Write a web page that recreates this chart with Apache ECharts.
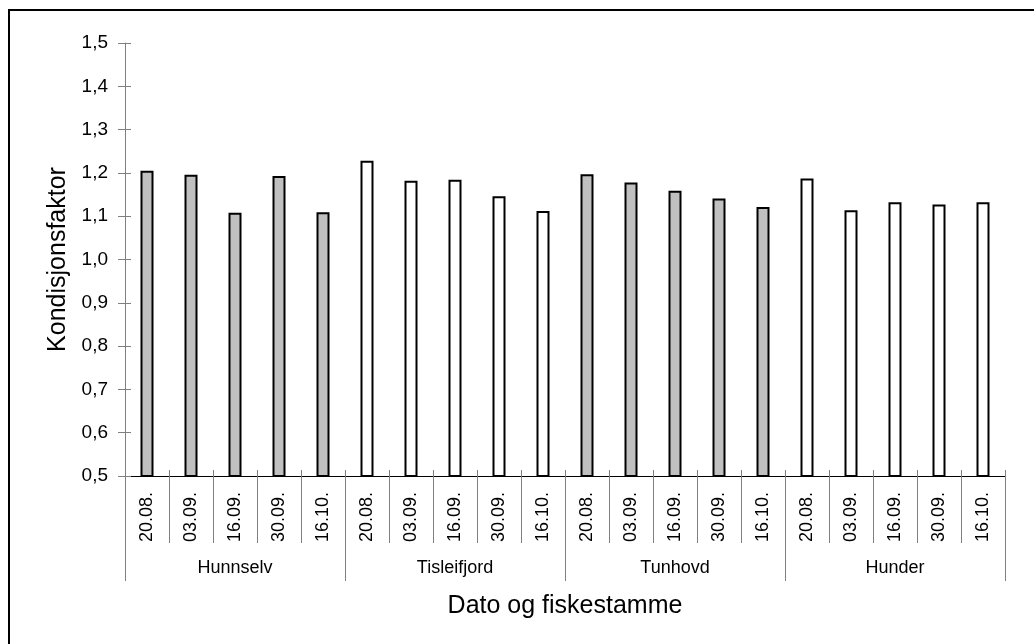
<!DOCTYPE html>
<html>
<head>
<meta charset="utf-8">
<title>Kondisjonsfaktor</title>
<script src="https://cdn.jsdelivr.net/npm/echarts@6/dist/echarts.min.js"></script>
<style>
  html, body { margin: 0; padding: 0; background: #fff; }
  #chart { width: 1034px; height: 644px; }
</style>
</head>
<body>
<div id="chart"></div>
<script>
// Sampling dates within each fish stock
const dates = ['20.08.', '03.09.', '16.09.', '30.09.', '16.10.'];
// Fish stocks (groups along the x axis)
const stocks = ['Hunnselv', 'Tisleifjord', 'Tunhovd', 'Hunder'];
// Bar fill per stock
const stockFill = ['#c0c0c0', '#ffffff', '#c0c0c0', '#ffffff'];
// Condition factor per stock, one value per date
const hunnselv = [1.205, 1.196, 1.108, 1.193, 1.109];
const tisleifjord = [1.228, 1.182, 1.184, 1.146, 1.112];
const tunhovd = [1.197, 1.178, 1.159, 1.141, 1.121];
const hunder = [1.187, 1.114, 1.132, 1.127, 1.132];
// Y axis ticks
const yMin = 0.5, yMax = 1.5, yStep = 0.1;

const stockValues = [hunnselv, tisleifjord, tunhovd, hunder];
const categories = [];
const barData = [];
stockValues.forEach((vals, g) => {
  vals.forEach((v, i) => {
    categories.push(dates[i]);
    barData.push({ value: v, itemStyle: { color: stockFill[g] } });
  });
});

const font = '"Liberation Sans", Arial, sans-serif';
const grey = '#808080';
const fmt = v => v.toFixed(1).replace('.', ',');

const chart = echarts.init(document.getElementById('chart'), null, { renderer: 'canvas' });
chart.setOption({
  backgroundColor: '#ffffff',
  animation: false,
  textStyle: { fontFamily: font, color: '#000' },
  grid: { left: 125, right: 29, top: 43, bottom: 168, containLabel: false },
  graphic: [{
    type: 'polyline',
    shape: { points: [[9, 700], [9, 10], [1100, 10]] },
    style: { stroke: '#000', lineWidth: 2, fill: null },
    silent: true
  }],
  xAxis: [
    {
      type: 'category',
      data: categories,
      position: 'bottom',
      boundaryGap: true,
      axisLine: { show: true, lineStyle: { color: '#000', width: 1 } },
      axisTick: { show: true, interval: 0, length: 67, lineStyle: { color: grey } },
      axisLabel: { interval: 0, rotate: 90, margin: 16, fontSize: 18, color: '#000', fontFamily: font },
      splitLine: { show: false }
    },
    {
      type: 'category',
      data: categories,
      position: 'bottom',
      boundaryGap: true,
      axisLine: { show: false },
      axisTick: { show: true, inside: true, interval: 0, length: 6, lineStyle: { color: grey } },
      axisLabel: { show: false },
      splitLine: { show: false }
    },
    {
      type: 'category',
      data: stocks,
      position: 'bottom',
      boundaryGap: true,
      axisLine: { show: false },
      axisTick: { show: true, interval: 0, length: 105, lineStyle: { color: grey } },
      axisLabel: { interval: 0, margin: 83, fontSize: 18, color: '#000', fontFamily: font },
      splitLine: { show: false },
      name: 'Dato og fiskestamme',
      nameLocation: 'middle',
      nameGap: 118,
      nameTextStyle: { fontSize: 25, color: '#000', fontFamily: font }
    }
  ],
  yAxis: [
    {
      type: 'value',
      position: 'left',
      min: yMin, max: yMax, interval: yStep,
      axisLine: { show: true, lineStyle: { color: grey, width: 1 } },
      axisTick: { show: true, length: 7, lineStyle: { color: grey } },
      axisLabel: { formatter: fmt, fontSize: 19, margin: 17, color: '#000', fontFamily: font },
      splitLine: { show: false },
      name: 'Kondisjonsfaktor',
      nameLocation: 'middle',
      nameGap: 53,
      nameTextStyle: { fontSize: 25, color: '#000', fontFamily: font }
    },
    {
      type: 'value',
      position: 'left',
      min: yMin, max: yMax, interval: yStep,
      axisLine: { show: false },
      axisTick: { show: true, inside: true, length: 6, lineStyle: { color: grey } },
      axisLabel: { show: false },
      splitLine: { show: false }
    }
  ],
  series: [{
    type: 'bar',
    xAxisIndex: 0,
    yAxisIndex: 0,
    data: barData,
    barWidth: 13,
    itemStyle: { borderColor: '#000', borderWidth: 2 },
    silent: true
  }]
});
</script>
</body>
</html>
